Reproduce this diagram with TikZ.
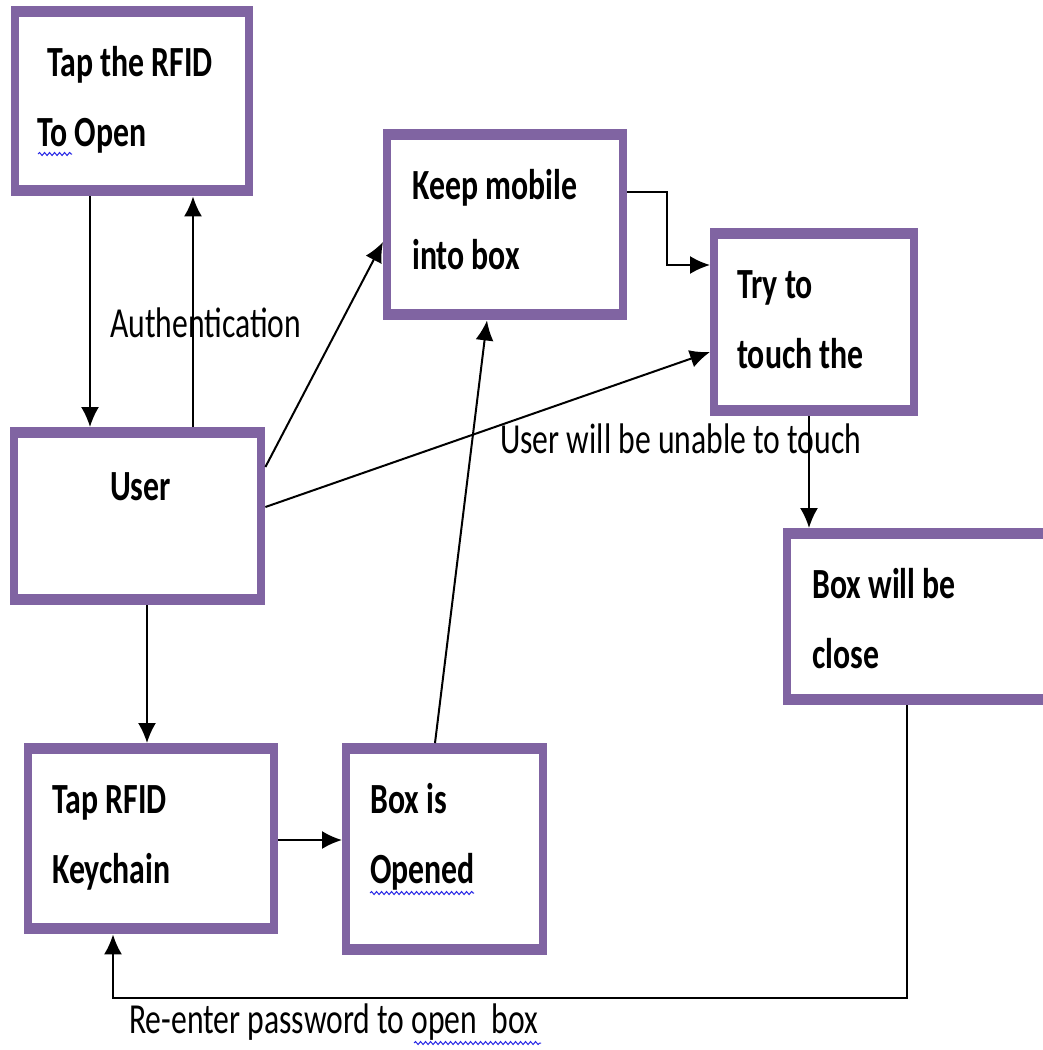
\documentclass[tikz,border=0pt]{standalone}
\usepackage{fontspec}
\setmainfont{Carlito}[FakeStretch=0.74]
\usetikzlibrary{arrows.meta, decorations.pathmorphing}
\definecolor{boxpurple}{HTML}{8064A2}
\definecolor{spellblue}{HTML}{2828E6}

\begin{document}
\begin{tikzpicture}[x=1pt, y=-1pt,
    flowbox/.style={rectangle, fill=boxpurple, inner sep=0pt, anchor=north west,
      path picture={\fill[white] ([shift={(8pt,-11pt)}]path picture bounding box.north west)
        rectangle ([shift={(-8pt,11pt)}]path picture bounding box.south east);}},
    boxtext/.style={anchor=north west, inner sep=0pt, align=left, font=\bfseries\fontsize{43}{70}\selectfont},
    plaintext/.style={anchor=base west, inner sep=0pt, font=\fontsize{42.8}{52}\selectfont},
    link/.style={-{Latex[length=20pt, width=18pt]}, line width=2pt},
    squiggle/.style={spellblue, line width=1pt, decorate, decoration={snake, segment length=5pt, amplitude=1.5pt}}]
  \useasboundingbox (0,0) rectangle (1042,1050);

  % boxes
  \node[flowbox, minimum width=242pt, minimum height=190pt] (rfidopen) at (11,6) {};
  \node[flowbox, minimum width=244pt, minimum height=191pt] (keep) at (383,129) {};
  \node[flowbox, minimum width=208pt, minimum height=188pt] (tryto) at (710,228) {};
  \node[flowbox, minimum width=255pt, minimum height=178pt] (user) at (10,427) {};
  \node[flowbox, minimum width=320pt, minimum height=177pt] (boxclose) at (783,528) {};
  \node[flowbox, minimum width=254pt, minimum height=191pt] (keychain) at (24,743) {};
  \node[flowbox, minimum width=205pt, minimum height=212pt] (opened) at (342,743) {};

  % box texts
  \node[boxtext] (rfidopentxt) at ([shift={(26pt,-21pt)}]rfidopen.north west) {\strut\hspace*{10pt}Tap the RFID\\\strut To Open};
  \node[boxtext] (keeptxt) at ([shift={(29pt,-21pt)}]keep.north west) {\strut Keep mobile\\\strut into box};
  \node[boxtext] (trytotxt) at ([shift={(27pt,-21pt)}]tryto.north west) {\strut Try to\\\strut touch the};
  \node[boxtext] (usertxt) at ([shift={(100pt,-24pt)}]user.north west) {\strut User};
  \node[boxtext] (boxclosetxt) at ([shift={(29pt,-21pt)}]boxclose.north west) {\strut Box will be\\\strut close};
  \node[boxtext] (keychaintxt) at ([shift={(28pt,-21pt)}]keychain.north west) {\strut Tap RFID\\\strut Keychain};
  \node[boxtext] (openedtxt) at ([shift={(28pt,-21pt)}]opened.north west) {\strut Box is\\\strut Opened};

  % free labels
  \node[plaintext] (authlbl) at (110,337) {Authentication};
  \node[plaintext] (unablelbl) at (500,453) {User will be unable to touch};
  \node[plaintext] (reenterlbl) at (129,1033) {Re-enter password to open\ \ box};

  % connectors
  \draw[link] ([xshift=79pt]rfidopen.south west) -- ([xshift=80pt]user.north west);
  \draw[link] ([xshift=183pt]user.north west) -- ([xshift=182pt]rfidopen.south west);
  \draw[link] ([yshift=-40pt]user.north east) -- ([yshift=-113pt]keep.north west);
  \draw[link] ([yshift=-80pt]user.north east) -- ([yshift=-124pt]tryto.north west);
  \draw[link] ([yshift=-63pt]keep.north east) -- ++(40,0) |- ([yshift=-37pt]tryto.north west);
  \draw[link] ([xshift=99pt]tryto.south west) -- ([xshift=26pt]boxclose.north west);
  \draw[link] ([xshift=137pt]user.south west) -- ([xshift=123pt]keychain.north west);
  \draw[link] ([yshift=-97pt]keychain.north east) -- ([yshift=-97pt]opened.north west);
  \draw[link] ([xshift=93pt]opened.north west) -- ([xshift=104pt]keep.south west);
  \draw[link] ([xshift=124pt]boxclose.south west) -- ++(0,293) -| ([xshift=89pt]keychain.south west);

  % spelling marks
  \draw[squiggle] (38,154) -- (72,154);
  \draw[squiggle] (370,893) -- (474,893);
  \draw[squiggle] (414,1043) -- (541,1043);
\end{tikzpicture}
\end{document}
